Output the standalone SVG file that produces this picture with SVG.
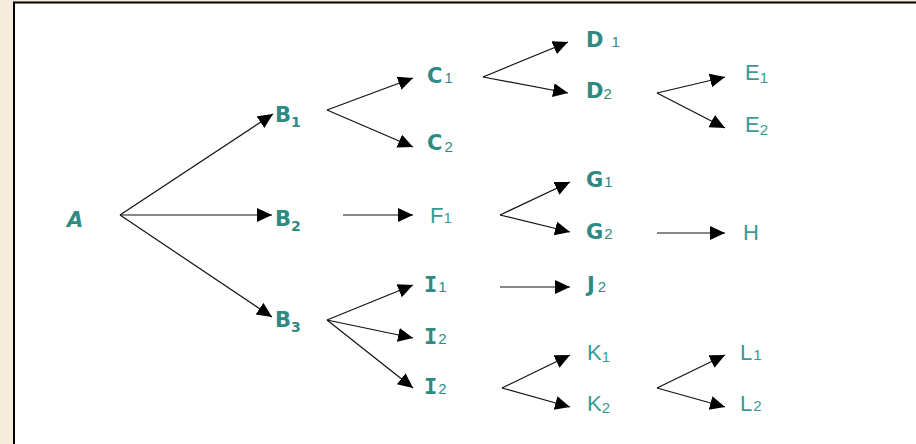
<svg xmlns="http://www.w3.org/2000/svg" width="916" height="444" viewBox="0 0 916 444">
<defs>
<marker id="ah" markerUnits="userSpaceOnUse" markerWidth="18" markerHeight="16" refX="15" refY="7" orient="auto">
<path d="M0,0 L15,7 L0,14 z" fill="#000"/>
</marker>
<style>
.c{stroke:#111;stroke-width:1.2;fill:none;marker-end:url(#ah)}
.t{font-family:"DejaVu Sans",sans-serif;font-weight:bold;font-size:21px;fill:#2e8a82}
.m{font-family:"DejaVu Sans Mono",monospace;font-weight:bold;font-size:22px;fill:#2e8a82}
.a{font-family:"Liberation Sans",Arial,sans-serif;font-size:22px;fill:#3a9a92}
.s{font-family:"Liberation Sans",Arial,sans-serif;font-weight:normal;font-size:15px}
.sb{font-size:14px}
</style>
</defs>
<rect x="0" y="0" width="916" height="444" fill="#f4ecdc"/>
<rect x="14" y="2" width="902" height="442" fill="#fff"/>
<path d="M14,444 V2.5 H916" stroke="#000" stroke-width="2" fill="none"/>
<g id="connectors">
<line class="c" x1="120" y1="215" x2="273" y2="114"/>
<line class="c" x1="120" y1="215" x2="272" y2="215"/>
<line class="c" x1="120" y1="215" x2="272" y2="317"/>
<line class="c" x1="327" y1="110" x2="413" y2="78"/>
<line class="c" x1="327" y1="110" x2="413" y2="147"/>
<line class="c" x1="483" y1="77" x2="568" y2="42"/>
<line class="c" x1="483" y1="77" x2="568" y2="93"/>
<line class="c" x1="657" y1="93" x2="725" y2="77"/>
<line class="c" x1="657" y1="93" x2="725" y2="128"/>
<line class="c" x1="343" y1="215" x2="413" y2="215"/>
<line class="c" x1="500" y1="215" x2="570" y2="182"/>
<line class="c" x1="500" y1="215" x2="570" y2="232"/>
<line class="c" x1="657" y1="233" x2="725" y2="233"/>
<line class="c" x1="327" y1="320" x2="413" y2="285"/>
<line class="c" x1="327" y1="320" x2="413" y2="338"/>
<line class="c" x1="327" y1="320" x2="413" y2="388"/>
<line class="c" x1="500" y1="287" x2="570" y2="287"/>
<line class="c" x1="502" y1="388" x2="570" y2="355"/>
<line class="c" x1="502" y1="388" x2="570" y2="407"/>
<line class="c" x1="657" y1="388" x2="725" y2="355"/>
<line class="c" x1="657" y1="388" x2="725" y2="407"/>
</g>
<g id="A"><text class="t" x="67" y="227" font-style="italic" font-weight="normal" font-size="23">A</text></g>
<g id="B1"><text class="t" x="275" y="122">B<tspan class="sb" dy="5">1</tspan></text></g>
<g id="B2"><text class="t" x="275" y="226">B<tspan class="sb" dy="5">2</tspan></text></g>
<g id="B3"><text class="t" x="275" y="327">B<tspan class="sb" dy="5">3</tspan></text></g>
<g id="C1"><text class="t" x="427" y="83">C<tspan class="s" dx="2" dy="0">1</tspan></text></g>
<g id="C2"><text class="t" x="427" y="150">C<tspan class="s" dx="2" dy="2">2</tspan></text></g>
<g id="D1"><text class="t" x="586" y="47">D<tspan class="s" dx="8" dy="0">1</tspan></text></g>
<g id="D2"><text class="t" x="586" y="98">D<tspan class="s" dy="1">2</tspan></text></g>
<g id="E1"><text class="a" x="745" y="80">E<tspan class="s" dy="3">1</tspan></text></g>
<g id="E2"><text class="a" x="745" y="132">E<tspan class="s" dy="3">2</tspan></text></g>
<g id="F1"><text class="a" x="430" y="223">F<tspan class="s" dy="0">1</tspan></text></g>
<g id="G1"><text class="t" x="586" y="187">G<tspan class="s" dx="1" dy="0">1</tspan></text></g>
<g id="G2"><text class="t" x="586" y="239">G<tspan class="s" dx="1" dy="0">2</tspan></text></g>
<g id="H"><text class="a" x="743" y="240">H</text></g>
<g id="I1"><text class="m" x="424" y="292">I<tspan class="s" dx="1" dy="0">1</tspan></text></g>
<g id="I2"><text class="m" x="424" y="344">I<tspan class="s" dx="1" dy="0">2</tspan></text></g>
<g id="I3"><text class="m" x="424" y="394">I<tspan class="s" dx="1" dy="0">2</tspan></text></g>
<g id="J2"><text class="t" x="587" y="292">J<tspan class="s" dx="3" dy="0">2</tspan></text></g>
<g id="K1"><text class="a" x="587" y="360">K<tspan class="s" dy="2">1</tspan></text></g>
<g id="K2"><text class="a" x="587" y="411">K<tspan class="s" dy="2">2</tspan></text></g>
<g id="L1"><text class="a" x="740" y="360">L<tspan class="s" dx="1" dy="0">1</tspan></text></g>
<g id="L2"><text class="a" x="740" y="411">L<tspan class="s" dx="1" dy="0">2</tspan></text></g>
</svg>
